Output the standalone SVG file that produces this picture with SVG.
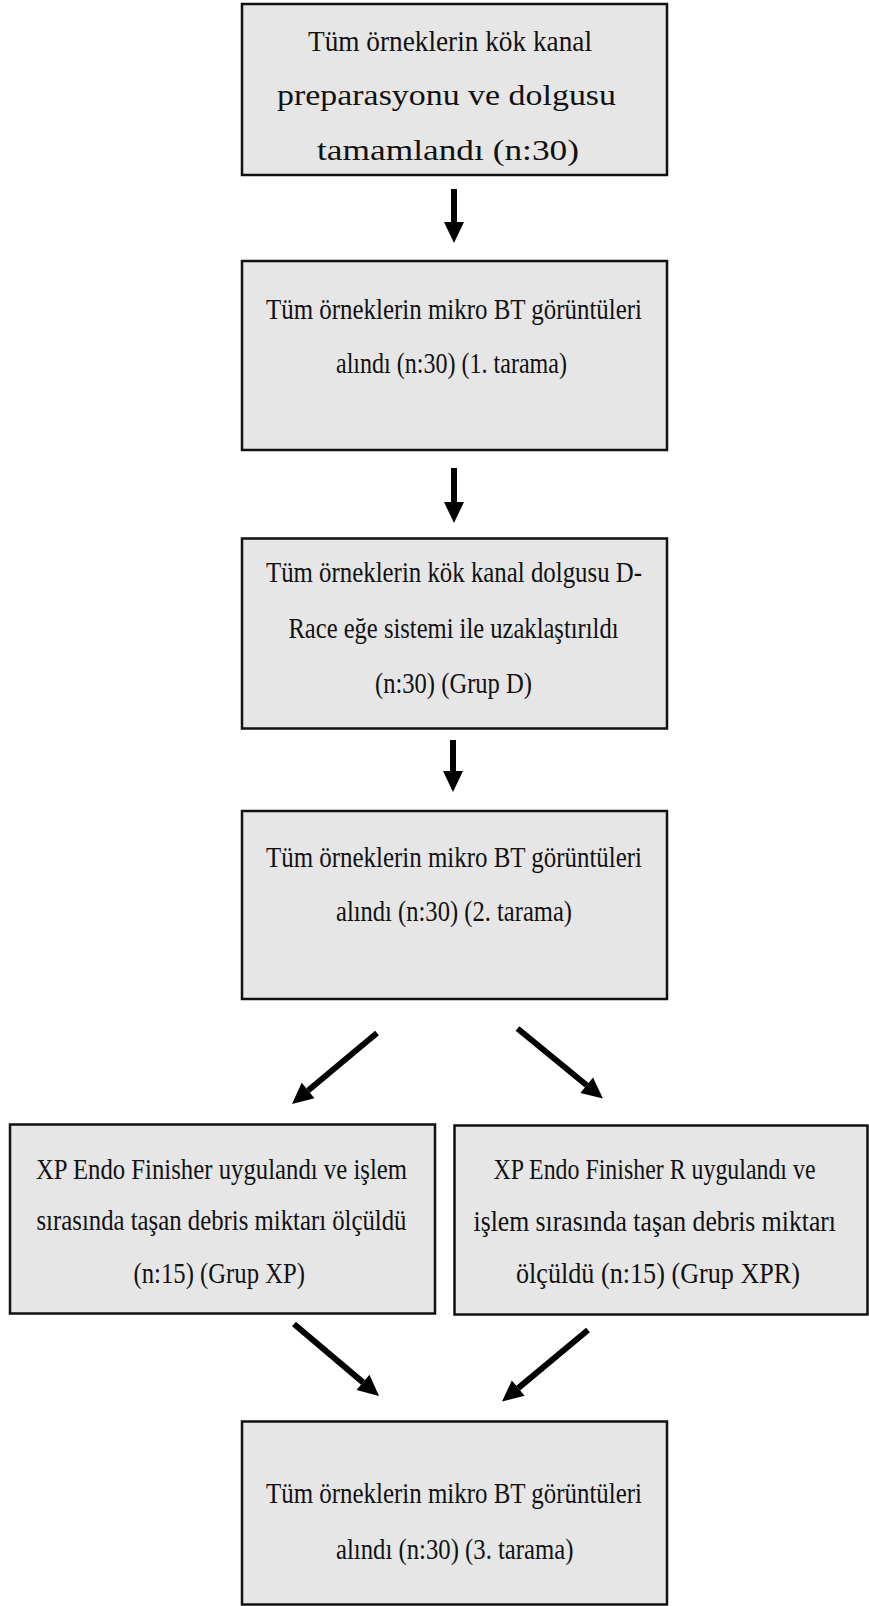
<svg xmlns="http://www.w3.org/2000/svg" width="869" height="1606" viewBox="0 0 869 1606">
<style>
.box{fill:#e6e6e6;stroke:#111;stroke-width:2.5}
.t{font-family:"Liberation Serif","Times New Roman",serif;font-size:30px;fill:#111}
.c{stroke:#000;stroke-width:6;fill:none}
</style>
<defs>
<marker id="ah" markerUnits="userSpaceOnUse" markerWidth="22" markerHeight="20" refX="0" refY="10" orient="auto" overflow="visible">
<path d="M0,0 L21,10 L0,20 z" fill="#000"/>
</marker>
</defs>
<rect width="869" height="1606" fill="#fff"/>
<g id="n1">
<rect class="box" x="242" y="4" width="425" height="171"/>
<text class="t" x="308" y="51" textLength="284" lengthAdjust="spacingAndGlyphs">Tüm örneklerin kök kanal</text>
<text class="t" x="277" y="105" textLength="339" lengthAdjust="spacingAndGlyphs">preparasyonu ve dolgusu</text>
<text class="t" x="317" y="160" textLength="262" lengthAdjust="spacingAndGlyphs">tamamlandı (n:30)</text>
</g>
<g id="n2">
<rect class="box" x="242" y="261" width="425" height="189"/>
<g transform="scale(0.84 1)">
<text class="t" x="316.67" y="319" textLength="447.62" lengthAdjust="spacingAndGlyphs">Tüm örneklerin mikro BT görüntüleri</text>
<text class="t" x="400" y="373.5" textLength="275" lengthAdjust="spacingAndGlyphs">alındı (n:30) (1. tarama)</text>
</g>
</g>
<g id="n3">
<rect class="box" x="242" y="538.5" width="425" height="190"/>
<g transform="scale(0.84 1)">
<text class="t" x="316.67" y="582.5" textLength="447.62" lengthAdjust="spacingAndGlyphs">Tüm örneklerin kök kanal dolgusu D-</text>
<text class="t" x="343.45" y="638" textLength="392.86" lengthAdjust="spacingAndGlyphs">Race eğe sistemi ile uzaklaştırıldı</text>
<text class="t" x="446.43" y="693" textLength="186.9" lengthAdjust="spacingAndGlyphs">(n:30) (Grup D)</text>
</g>
</g>
<g id="n4">
<rect class="box" x="242" y="811" width="425" height="188"/>
<g transform="scale(0.84 1)">
<text class="t" x="316.67" y="867.5" textLength="447.62" lengthAdjust="spacingAndGlyphs">Tüm örneklerin mikro BT görüntüleri</text>
<text class="t" x="400" y="921" textLength="280.95" lengthAdjust="spacingAndGlyphs">alındı (n:30) (2. tarama)</text>
</g>
</g>
<g id="n5">
<rect class="box" x="10" y="1124.5" width="425" height="189"/>
<g transform="scale(0.84 1)">
<text class="t" x="42.86" y="1179" textLength="441.67" lengthAdjust="spacingAndGlyphs">XP Endo Finisher uygulandı ve işlem</text>
<text class="t" x="43.45" y="1230.5" textLength="440.48" lengthAdjust="spacingAndGlyphs">sırasında taşan debris miktarı ölçüldü</text>
<text class="t" x="158.93" y="1283" textLength="204.17" lengthAdjust="spacingAndGlyphs">(n:15) (Grup XP)</text>
</g>
</g>
<g id="n6">
<rect class="box" x="454.5" y="1125.5" width="413" height="189"/>
<g transform="scale(0.84 1)">
<text class="t" x="587.5" y="1179" textLength="383.33" lengthAdjust="spacingAndGlyphs">XP Endo Finisher R uygulandı ve</text>
<text class="t" x="563.69" y="1231" textLength="431.55" lengthAdjust="spacingAndGlyphs">işlem  sırasında taşan debris miktarı</text>
<text class="t" x="614.29" y="1283" textLength="338.1" lengthAdjust="spacingAndGlyphs">ölçüldü (n:15) (Grup XPR)</text>
</g>
</g>
<g id="n7">
<rect class="box" x="242" y="1421.5" width="425" height="183"/>
<g transform="scale(0.84 1)">
<text class="t" x="316.67" y="1503.5" textLength="447.62" lengthAdjust="spacingAndGlyphs">Tüm örneklerin mikro BT görüntüleri</text>
<text class="t" x="400" y="1559" textLength="282.74" lengthAdjust="spacingAndGlyphs">alındı (n:30) (3. tarama)</text>
</g>
</g>
<g id="connectors">
<line class="c" x1="454" y1="189" x2="454" y2="222" marker-end="url(#ah)"/>
<line class="c" x1="454" y1="468" x2="454" y2="502" marker-end="url(#ah)"/>
<line class="c" x1="453" y1="740" x2="453" y2="771" marker-end="url(#ah)"/>
<line class="c" x1="377" y1="1033" x2="308.1" y2="1090.5" marker-end="url(#ah)"/>
<line class="c" x1="517.5" y1="1028.5" x2="586.7" y2="1085.2" marker-end="url(#ah)"/>
<line class="c" x1="294" y1="1324" x2="363" y2="1382.4" marker-end="url(#ah)"/>
<line class="c" x1="588" y1="1330" x2="518.2" y2="1388.1" marker-end="url(#ah)"/>
</g>
</svg>
